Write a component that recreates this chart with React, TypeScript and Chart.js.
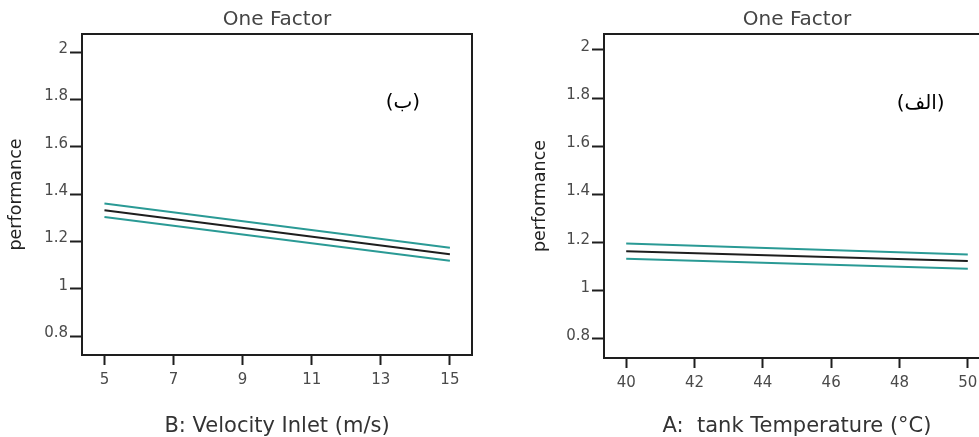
import React, { useEffect, useRef } from "react";
import { Chart, registerables } from "chart.js";

Chart.register(...registerables);

// ---- data ----
const yTickValues = [0.8, 1, 1.2, 1.4, 1.6, 1.8, 2];

const velocityTicks = [5, 7, 9, 11, 13, 15];
const velocityX = [5, 15];
const velocityMean = [1.332, 1.146];
const velocityUpper = [1.36, 1.173];
const velocityLower = [1.303, 1.118];

const tempTicks = [40, 42, 44, 46, 48, 50];
const tempX = [40, 50];
const tempMean = [1.164, 1.124];
const tempUpper = [1.196, 1.151];
const tempLower = [1.133, 1.092];

const chartTitle = "One Factor";
const yTitle = "performance";
const velocityTitle = "B: Velocity Inlet (m/s)";
const tempTitle = "A:  tank Temperature (°C)";
const velocityTag = "(ب)";
const tempTag = "(الف)";

const TEAL = "#2a9a95";
const DARK = "#1e1e1e";
const GRAY = "#4a4a4a";
const FONT = "'DejaVu Sans', sans-serif";

type PanelProps = {
  left: number;
  width: number;
  xs: number[];
  mean: number[];
  upper: number[];
  lower: number[];
  xTicks: number[];
  xMin: number;
  xMax: number;
  yMin: number;
  yMax: number;
  xTitle: string;
  tag: string;
  tagX: number;
  tagY: number;
  yAxisWidth: number;
  xAxisHeight: number;
  padRight: number;
  yTitlePad: number;
};

const toPts = (xs: number[], ys: number[]) => xs.map((x, i) => ({ x, y: ys[i] }));

function Panel(p: PanelProps) {
  const ref = useRef<HTMLCanvasElement | null>(null);
  useEffect(() => {
    if (!ref.current) return;
    const boxPlugin = {
      id: "boxAndTag",
      afterDraw(chart: any) {
        const { ctx, chartArea } = chart;
        ctx.save();
        ctx.strokeStyle = DARK;
        ctx.lineWidth = 2;
        ctx.strokeRect(
          chartArea.left,
          chartArea.top,
          chartArea.right - chartArea.left,
          chartArea.bottom - chartArea.top
        );
        const px = chart.scales.x.getPixelForValue(p.tagX);
        const py = chart.scales.y.getPixelForValue(p.tagY);
        ctx.fillStyle = "#000";
        ctx.font = "20px 'DejaVu Sans', sans-serif";
        ctx.textAlign = "center";
        ctx.textBaseline = "middle";
        ctx.fillText(p.tag, px, py);
        ctx.restore();
      },
    };
    const chart = new Chart(ref.current, {
      type: "line",
      data: {
        datasets: [
          { data: toPts(p.xs, p.upper), borderColor: TEAL, borderWidth: 2, pointRadius: 0 },
          { data: toPts(p.xs, p.lower), borderColor: TEAL, borderWidth: 2, pointRadius: 0 },
          { data: toPts(p.xs, p.mean), borderColor: DARK, borderWidth: 2, pointRadius: 0 },
        ],
      },
      options: {
        animation: false,
        responsive: false,
        events: [],
        layout: { padding: { left: 0, right: p.padRight, top: 0, bottom: 0 } },
        plugins: {
          legend: { display: false },
          tooltip: { enabled: false },
          title: {
            display: true,
            text: chartTitle,
            fullSize: false,
            color: "#444",
            font: { family: FONT, size: 20, weight: "normal", lineHeight: 1.2 },
            padding: { top: 8, bottom: 2 },
          },
        },
        scales: {
          x: {
            type: "linear",
            min: p.xMin,
            max: p.xMax,
            afterBuildTicks: (s: any) => {
              s.ticks = p.xTicks.map((v) => ({ value: v }));
            },
            afterFit: (s: any) => {
              s.height = p.xAxisHeight;
            },
            border: { display: false },
            grid: {
              drawOnChartArea: false,
              drawTicks: true,
              tickLength: 10,
              tickColor: DARK,
              tickWidth: 2,
            },
            ticks: {
              color: GRAY,
              font: { family: FONT, size: 15 },
              padding: 6,
              maxRotation: 0,
              autoSkip: false,
              callback: (v: any) => String(v),
            },
            title: {
              display: true,
              text: p.xTitle,
              color: "#333",
              font: { family: FONT, size: 21, lineHeight: 1 },
              padding: { top: 0, bottom: 0 },
            },
          },
          y: {
            type: "linear",
            min: p.yMin,
            max: p.yMax,
            afterBuildTicks: (s: any) => {
              s.ticks = yTickValues.map((v) => ({ value: v }));
            },
            afterFit: (s: any) => {
              s.width = p.yAxisWidth;
            },
            border: { display: false },
            grid: {
              drawOnChartArea: false,
              drawTicks: true,
              tickLength: 12,
              tickColor: DARK,
              tickWidth: 2,
            },
            ticks: {
              color: GRAY,
              font: { family: FONT, size: 15 },
              padding: 2,
              labelOffset: -3,
              autoSkip: false,
              callback: (v: any) => String(v),
            },
            title: {
              display: true,
              text: yTitle,
              color: "#222",
              font: { family: FONT, size: 17.5, lineHeight: 1.2 },
              padding: { top: p.yTitlePad, bottom: 0 },
            },
          },
        },
      },
      plugins: [boxPlugin],
    } as any);
    return () => chart.destroy();
  }, []);
  return (
    <canvas
      ref={ref}
      width={p.width}
      height={437}
      style={{ position: "absolute", left: p.left, top: 0, width: p.width, height: 437 }}
    />
  );
}

export default function App() {
  return (
    <div
      style={{
        position: "fixed",
        left: 0,
        top: 0,
        width: 979,
        height: 437,
        overflow: "hidden",
        background: "#fff",
      }}
    >
      <Panel
        left={0}
        width={489}
        xs={velocityX}
        mean={velocityMean}
        upper={velocityUpper}
        lower={velocityLower}
        xTicks={velocityTicks}
        xMin={4.35}
        xMax={15.64}
        yMin={0.72}
        yMax={2.077}
        xTitle={velocityTitle}
        tag={velocityTag}
        tagX={13.64}
        tagY={1.786}
        yAxisWidth={82}
        xAxisHeight={82}
        padRight={17}
        yTitlePad={5.5}
      />
      <Panel
        left={520}
        width={480}
        xs={tempX}
        mean={tempMean}
        upper={tempUpper}
        lower={tempLower}
        xTicks={tempTicks}
        xMin={39.35}
        xMax={50.65}
        yMin={0.721}
        yMax={2.066}
        xTitle={tempTitle}
        tag={tempTag}
        tagX={48.62}
        tagY={1.776}
        yAxisWidth={84}
        xAxisHeight={79}
        padRight={10}
        yTitlePad={9.5}
      />
    </div>
  );
}
